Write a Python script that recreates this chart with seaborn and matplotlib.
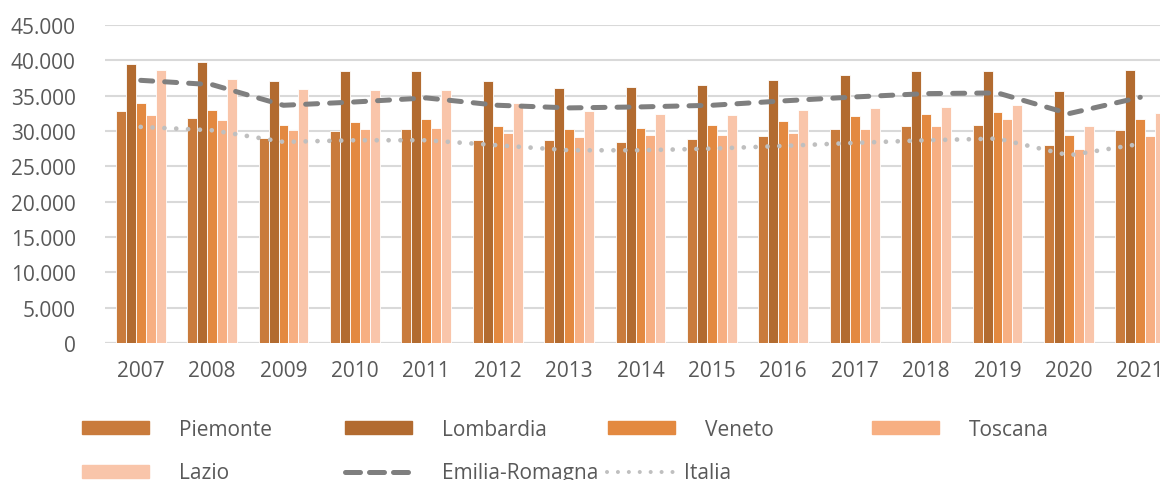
import numpy as np
import pandas as pd
import matplotlib
matplotlib.use("Agg")
import matplotlib.pyplot as plt
import seaborn as sns
from matplotlib.patches import Patch
from matplotlib.lines import Line2D

years = ["2007", "2008", "2009", "2010", "2011", "2012", "2013", "2014",
         "2015", "2016", "2017", "2018", "2019", "2020", "2021"]
piemonte = [32840, 31850, 29020, 30000, 30240, 28740, 28690, 28460,
            28930, 29350, 30340, 30760, 30800, 27980, 30200]
lombardia = [39530, 39770, 37090, 38540, 38450, 37090, 36140, 36280,
             36560, 37230, 37980, 38540, 38540, 35670, 38590]
veneto = [34020, 32980, 30900, 31330, 31750, 30660, 30340, 30440,
          30860, 31470, 32180, 32420, 32740, 29490, 31750]
toscana = [32320, 31610, 30200, 30240, 30440, 29770, 29160, 29450,
           29490, 29770, 30300, 30720, 31660, 27510, 29250]
lazio = [38590, 37410, 36000, 35760, 35760, 34020, 32890, 32460,
         32270, 33030, 33310, 33360, 33730, 30760, 32600]
emilia = [37170, 36560, 33640, 34110, 34680, 33640, 33270, 33410,
          33640, 34260, 34820, 35290, 35390, 32460, 34770]
italia = [30580, 30100, 28460, 28690, 28690, 27980, 27270, 27270,
          27510, 27890, 28320, 28690, 28930, 26560, 28180]

regions = ["Piemonte", "Lombardia", "Veneto", "Toscana", "Lazio"]
bar_colors = ["#C97B3C", "#B26B30", "#E38940", "#F7AF82", "#F9C5AA"]

df = pd.DataFrame({"anno": years * 5,
                   "regione": np.repeat(regions, len(years)),
                   "valore": piemonte + lombardia + veneto + toscana + lazio})

sns.set_style("white")
plt.rcParams["font.family"] = ["Open Sans", "DejaVu Sans"]
txt = "#595959"

fig = plt.figure(figsize=(11.6, 4.81), dpi=100)
ax = fig.add_axes([105 / 1160, 1 - 344 / 481, (1176 - 105) / 1160, (344 - 26) / 481])

sns.barplot(data=df, x="anno", y="valore", hue="regione", order=years,
            hue_order=regions, palette=bar_colors, width=0.7, gap=0,
            edgecolor="white", linewidth=0.6, saturation=1, legend=False, ax=ax)

xpos = np.arange(len(years))
sns.lineplot(x=xpos, y=emilia, color="#7F7F7F", lw=3.6, ax=ax)
ax.lines[-1].set_dashes((2.4, 2.4))
ax.lines[-1].set_dash_capstyle("round")
sns.lineplot(x=xpos, y=italia, color="#BFBFBF", lw=3.4, ax=ax)
ax.lines[-1].set_dashes((0.01, 2.5))
ax.lines[-1].set_dash_capstyle("round")

ax.set_xlim(-0.5, len(years) - 0.5)
ax.set_ylim(0, 45000)
yt = np.arange(0, 45001, 5000)
ax.set_yticks(yt)
ax.set_yticklabels([f"{v:,}".replace(",", ".") for v in yt])
ax.yaxis.grid(True, color="#D9D9D9", lw=1.5)
ax.set_axisbelow(True)
ax.axhline(0, color="#BFBFBF", lw=1.5, zorder=0.5)
sns.despine(ax=ax, left=True, bottom=True)
ax.tick_params(axis="both", length=0, labelsize=15, colors=txt)
ax.tick_params(axis="y", pad=21)
ax.tick_params(axis="x", pad=12)
ax.set_xlabel("")
ax.set_ylabel("")

# legend laid out like the original (Excel flow layout)
handles = [Patch(color=c) for c in bar_colors]
handles.append(Line2D([], [], color="#7F7F7F", lw=3.6, dashes=(3.0, 1.8),
                      dash_capstyle="round"))
handles.append(Line2D([], [], color="#BFBFBF", lw=2.9, dashes=(0.01, 2.7),
                      dash_capstyle="round"))
labels = regions + ["Emilia-Romagna", "Italia"]
leg_x = [82, 345, 608, 872, 82, 345, 607]
leg_y = [430, 430, 430, 430, 474, 474, 474]
for h, lab, lx, ly in zip(handles, labels, leg_x, leg_y):
    fig.legend(handles=[h], labels=[lab], loc="center left",
               bbox_to_anchor=(lx / 1160, 1 - ly / 481), frameon=False,
               fontsize=15, handlelength=3.2, handleheight=0.6,
               handletextpad=1.45 if lab != "Italia" else 0.5,
               borderpad=0, borderaxespad=0, labelcolor=txt)

fig.savefig("out.png", dpi=100)
